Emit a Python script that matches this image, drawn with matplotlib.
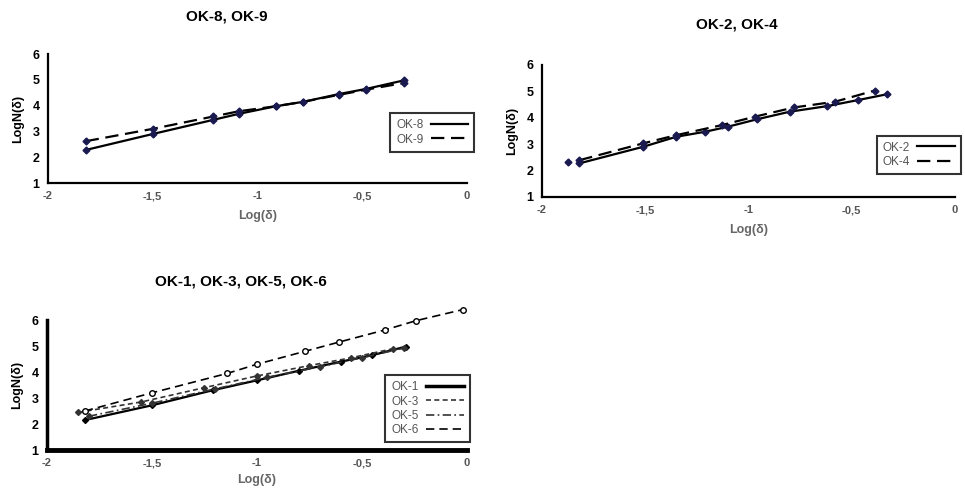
import matplotlib
matplotlib.use("Agg")
import matplotlib.pyplot as plt
import numpy as np

plt.rcParams['font.family'] = ['Liberation Sans', 'DejaVu Sans']

# --- panel 1: OK-8, OK-9 ---
ok8_x = [-1.82, -1.50, -1.21, -1.09, -0.91, -0.78, -0.61, -0.48, -0.30]
ok8_y = [2.28, 2.90, 3.45, 3.68, 3.98, 4.15, 4.45, 4.65, 4.98]
ok9_x = [-1.82, -1.50, -1.21, -1.09, -0.91, -0.78, -0.61, -0.48, -0.30]
ok9_y = [2.62, 3.10, 3.58, 3.78, 3.98, 4.15, 4.42, 4.62, 4.88]

# --- panel 2: OK-2, OK-4 ---
ok2_x = [-1.82, -1.51, -1.35, -1.21, -1.10, -0.96, -0.80, -0.62, -0.47, -0.33]
ok2_y = [2.27, 2.90, 3.28, 3.47, 3.66, 3.94, 4.23, 4.44, 4.67, 4.89]
ok2_outlier_x = [-1.875]
ok2_outlier_y = [2.33]
ok4_x = [-1.82, -1.51, -1.35, -1.13, -0.97, -0.78, -0.58, -0.39]
ok4_y = [2.39, 3.03, 3.34, 3.72, 4.04, 4.39, 4.61, 5.03]

# --- panel 3: OK-1, OK-3, OK-5, OK-6 ---
ok1_x = [-1.82, -1.50, -1.21, -1.00, -0.80, -0.60, -0.45, -0.29]
ok1_y = [2.15, 2.72, 3.30, 3.68, 4.05, 4.40, 4.65, 4.98]
ok3_x = [-1.85, -1.55, -1.25, -1.00, -0.75, -0.55, -0.35]
ok3_y = [2.45, 2.85, 3.40, 3.85, 4.25, 4.55, 4.90]
ok5_x = [-1.80, -1.50, -1.20, -0.95, -0.70, -0.50, -0.30]
ok5_y = [2.30, 2.80, 3.35, 3.80, 4.20, 4.55, 4.92]
ok6_x = [-1.82, -1.50, -1.14, -1.00, -0.77, -0.61, -0.39, -0.24, -0.02]
ok6_y = [2.50, 3.20, 3.95, 4.30, 4.80, 5.15, 5.62, 5.98, 6.40]

x_ticks = [-2, -1.5, -1, -0.5, 0]
x_tick_labels = ['-2', '-1,5', '-1', '-0,5', '0']
y_ticks = [1, 2, 3, 4, 5, 6]

fig = plt.figure(figsize=(9.65, 4.96), dpi=100)


def style_axes(ax, top=6):
    ax.set_xlim(-2, 0)
    ax.set_ylim(1, top)
    ax.set_xticks(x_ticks)
    ax.set_xticklabels(x_tick_labels, fontsize=8, fontweight='bold', color='#555555')
    ax.set_yticks(y_ticks)
    ax.set_yticklabels([str(t) for t in y_ticks], fontsize=9, fontweight='bold')
    ax.spines['top'].set_visible(False)
    ax.spines['right'].set_visible(False)
    ax.spines['left'].set_linewidth(1.6)
    ax.spines['bottom'].set_linewidth(1.6)
    ax.spines['left'].set_bounds(1, 6)
    ax.tick_params(length=0, pad=6)
    ax.patch.set_alpha(0)


def legend_box(ax, handles, labels, bbox):
    leg = ax.legend(handles, labels, loc='center', bbox_to_anchor=bbox,
                    bbox_transform=fig.transFigure, frameon=True, fancybox=False,
                    fontsize=8.5, handlelength=3.2, handletextpad=0.6,
                    borderpad=0.5, labelspacing=0.2, markerfirst=False)
    leg.get_frame().set_edgecolor('black')
    leg.get_frame().set_linewidth(1.5)
    for t in leg.get_texts():
        t.set_color('#555555')
    return leg


mk = dict(marker='D', markersize=3.5, markerfacecolor='#1a1a50', markeredgecolor='#1a1a50')

# panel 1
ax1 = fig.add_axes([0.0497, 0.631, 0.434, 0.260])
ax1.plot(ok8_x, ok8_y, color='black', lw=1.6, **mk)
ax1.plot(ok9_x, ok9_y, color='black', lw=1.6, ls=(0, (6, 3)), **mk)
style_axes(ax1)
ax1.set_xlabel('Log(δ)', fontsize=9, fontweight='bold', color='#666666', labelpad=6)
ax1.set_ylabel('LogN(δ)', fontsize=9, fontweight='bold', labelpad=6)
h8 = plt.Line2D([], [], color='black', lw=1.6)
h9 = plt.Line2D([], [], color='black', lw=1.6, ls=(0, (6, 3)))
legend_box(ax1, [h8, h9], ['OK-8', 'OK-9'], (0.448, 0.733))
fig.text(0.235, 0.967, 'OK-8, OK-9', ha='center', va='center', fontsize=11, fontweight='bold')

# panel 2
ax2 = fig.add_axes([0.5617, 0.603, 0.428, 0.266])
ax2.plot(ok2_x, ok2_y, color='black', lw=1.6, **mk)
ax2.plot(ok2_outlier_x, ok2_outlier_y, ls='none', **mk)
ax2.plot(ok4_x, ok4_y, color='black', lw=1.6, ls=(0, (6, 3)), **mk)
style_axes(ax2)
ax2.set_ylabel('LogN(δ)', fontsize=9, fontweight='bold', labelpad=6)
ax2.set_xlabel('Log(δ)', fontsize=9, fontweight='bold', color='#666666', labelpad=6)
legend_box(ax2, [h8, h9], ['OK-2', 'OK-4'], (0.952, 0.688))
fig.text(0.764, 0.950, 'OK-2, OK-4', ha='center', va='center', fontsize=11, fontweight='bold')

# panel 3
ax3 = fig.add_axes([0.0487, 0.0927, 0.435, 0.262])
ax3.plot(ok1_x, ok1_y, color='black', lw=1.6, marker='D', markersize=3)
ax3.plot(ok3_x, ok3_y, color='#333333', lw=1.2, ls=(0, (3, 2)), marker='D', markersize=3)
ax3.plot(ok5_x, ok5_y, color='#333333', lw=1.2, ls=(0, (5, 2, 1, 2)), marker='D', markersize=3)
ax3.plot(ok6_x, ok6_y, color='black', lw=1.2, ls=(0, (5, 3)), marker='o', markersize=4,
         markerfacecolor='white', markeredgecolor='black', clip_on=False)
style_axes(ax3)
ax3.spines['bottom'].set_linewidth(3.5)
ax3.spines['left'].set_linewidth(2.5)
ax3.set_ylabel('LogN(δ)', fontsize=9, fontweight='bold', labelpad=6)
ax3.set_xlabel('Log(δ)', fontsize=9, fontweight='bold', color='#666666', labelpad=4)
h1 = plt.Line2D([], [], color='black', lw=2.5)
h3 = plt.Line2D([], [], color='#333333', lw=1.2, ls=(0, (3, 2)))
h5 = plt.Line2D([], [], color='#333333', lw=1.2, ls=(0, (5, 2, 1, 2)))
h6 = plt.Line2D([], [], color='black', lw=1.2, ls=(0, (5, 3)))
legend_box(ax3, [h1, h3, h5, h6], ['OK-1', 'OK-3', 'OK-5', 'OK-6'], (0.443, 0.176))
fig.text(0.25, 0.432, 'OK-1, OK-3, OK-5, OK-6', ha='center', va='center',
         fontsize=11, fontweight='bold')

fig.savefig('out.png', dpi=100, facecolor='white')
